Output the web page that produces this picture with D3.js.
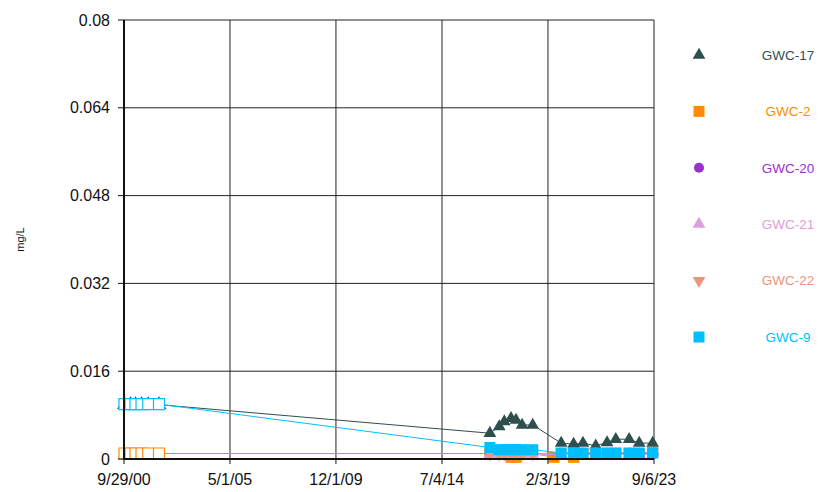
<!DOCTYPE html>
<html lang='en'>
<head>
<meta charset='utf-8'>
<title>GWC concentrations</title>
<script src='https://cdnjs.cloudflare.com/ajax/libs/d3/7.8.5/d3.min.js'></script>
<style>
body {
   margin:0;
   background:white;
}
svg text {
   font-family:'Liberation Sans', Arial, sans-serif;
}
</style>
</head>
<body>
<div id='chart'></div>
<script>
// sample dates shared by all wells
var sampleDates = ['2000-10-07','2001-01-10','2001-03-30','2001-07-03','2001-10-17','2002-04-05',
   '2016-07-30','2016-12-25','2017-03-15','2017-06-29','2017-09-16','2017-12-21','2018-06-07',
   '2019-05-10','2019-08-31','2020-03-14','2020-08-09','2021-02-27','2021-08-25','2022-01-10',
   '2022-08-09','2023-01-15','2023-08-16','2023-08-30'];
// first six samples are non-detects (hollow markers)
var hollowIdx = [0, 1, 2, 3, 4, 5];

var gwc17 = [0.0099,0.0099,0.0099,0.0099,0.0099,0.0099,
   0.0047,0.0059,0.0068,0.0074,0.0071,0.0062,0.0062,
   null,0.0029,0.0027,0.0029,0.0024,0.003,0.0036,0.0036,0.0029,0.0029,null];
var gwc2 = [0.001,0.001,0.001,0.001,0.001,0.001,
   0.001,0.001,0.001,0.0003,0.0003,0.001,0.001,
   0.0003,null,0.0003,0.001,0.001,0.001,0.001,0.001,0.001,0.0012,null];
var gwc20 = [null,null,null,null,null,null,
   0.0009,0.0009,0.0009,0.0009,0.0009,0.0009,0.0009,
   null,0.0009,0.0009,0.0009,0.0009,0.0009,0.0009,0.0009,0.0009,null,0.0009];
var gwc21 = [null,null,null,null,null,null,
   0.0008,0.0008,0.0008,0.0008,0.0008,0.0008,0.0008,
   null,0.0009,0.0009,0.0009,0.0009,0.0009,0.0009,0.0009,0.0009,0.0009,null];
var gwc22 = [null,null,null,null,null,null,
   0.0009,0.0009,0.0009,0.0009,0.0009,0.0009,0.0009,
   null,0.0012,0.0012,0.0012,0.0012,0.0012,0.0012,0.0012,0.0012,0.0012,null];
var gwc9 = [0.01,0.01,0.01,0.01,0.01,0.01,
   0.0021,0.0017,0.0017,0.0017,0.0017,0.0017,0.0017,
   null,0.0011,0.0011,0.0011,0.0011,0.0011,0.0011,0.0011,0.0011,0.0011,null];

var seriesNames = ['GWC-17','GWC-2','GWC-20','GWC-21','GWC-22','GWC-9'];
var seriesColors = ['#2F4F4F','#FF8C00','#9932CC','#DDA0DD','#E9967A','#00BFFF'];
var seriesShapes = ['triangle','square','circle','triangle','down','square'];
var seriesValues = [gwc17, gwc2, gwc20, gwc21, gwc22, gwc9];

var xTickLabels = ['9/29/00','5/1/05','12/1/09','7/4/14','2/3/19','9/6/23'];
var yTicks = [0, 0.016, 0.032, 0.048, 0.064, 0.08];

var W = 827, H = 492;
var plotL = 124, plotR = 654, plotT = 20, plotB = 459;

var parseIso = d3.timeParse('%Y-%m-%d');
var parseTick = d3.timeParse('%m/%d/%y');
var tickDates = xTickLabels.map(parseTick);

var x = d3.scaleTime()
          .domain([tickDates[0], tickDates[tickDates.length - 1]])
          .range([plotL, plotR]);
var y = d3.scaleLinear().domain([0, 0.08]).range([plotB, plotT]);

var svg = d3.select('#chart').append('svg')
            .attr('width', W).attr('height', H);

// grid
var grid = svg.append('g');
grid.selectAll('line.v').data(tickDates).enter().append('line')
    .attr('x1', function(d){return x(d);}).attr('x2', function(d){return x(d);})
    .attr('y1', plotT).attr('y2', plotB)
    .style('stroke', '#222').style('stroke-width', 1);
grid.selectAll('line.h').data(yTicks).enter().append('line')
    .attr('x1', plotL).attr('x2', plotR)
    .attr('y1', function(d){return y(d);}).attr('y2', function(d){return y(d);})
    .style('stroke', '#222').style('stroke-width', 1);

function symbolPath(shape, size) {
   if (shape === 'down') {
      return d3.symbol().type(d3.symbolTriangle).size(size)();
   }
   var t = {triangle: d3.symbolTriangle, square: d3.symbolSquare, circle: d3.symbolCircle}[shape];
   return d3.symbol().type(t).size(size)();
}
var shapeSize = {triangle: 70, down: 70, square: 121, circle: 80};

var line = d3.line()
             .x(function(d){return x(d.date);})
             .y(function(d){return y(d.value);});

seriesNames.forEach(function(name, s) {
   var pts = [];
   seriesValues[s].forEach(function(v, i) {
      if (v === null) return;
      pts.push({date: parseIso(sampleDates[i]), value: v, hollow: hollowIdx.indexOf(i) >= 0});
   });
   var g = svg.append('g');
   g.append('path').datum(pts)
    .attr('d', line)
    .style('fill', 'none').style('stroke', seriesColors[s]).style('stroke-width', 1);
   g.selectAll('path.mk').data(pts).enter().append('path')
    .attr('class', 'mk')
    .attr('d', symbolPath(seriesShapes[s], shapeSize[seriesShapes[s]]))
    .attr('transform', function(d){
       return 'translate(' + x(d.date) + ',' + y(d.value) + ')' + (seriesShapes[s] === 'down' ? ' rotate(180)' : '');
    })
    .style('fill', function(d){return d.hollow ? 'white' : seriesColors[s];})
    .style('stroke', function(d){return d.hollow ? seriesColors[s] : 'none';})
    .style('stroke-width', 1.2);
});

// axes
svg.append('line').attr('x1', plotL).attr('x2', plotL).attr('y1', plotT).attr('y2', plotB + 1)
   .style('stroke', '#111').style('stroke-width', 2);
svg.append('line').attr('x1', plotL - 1).attr('x2', plotR).attr('y1', plotB).attr('y2', plotB)
   .style('stroke', '#111').style('stroke-width', 2);
svg.selectAll('line.yt').data(yTicks).enter().append('line')
   .attr('x1', plotL - 6).attr('x2', plotL)
   .attr('y1', function(d){return y(d);}).attr('y2', function(d){return y(d);})
   .style('stroke', '#111').style('stroke-width', 1);
svg.selectAll('line.xt').data(tickDates).enter().append('line')
   .attr('x1', function(d){return x(d);}).attr('x2', function(d){return x(d);})
   .attr('y1', plotB).attr('y2', plotB + 5)
   .style('stroke', '#111').style('stroke-width', 1);
svg.selectAll('text.yl').data(yTicks).enter().append('text')
   .attr('x', plotL - 14).attr('y', function(d){return y(d);})
   .attr('dy', '0.35em').attr('text-anchor', 'end')
   .style('font-size', '16px').style('fill', '#111')
   .text(function(d){return String(d);});
svg.selectAll('text.xl').data(tickDates).enter().append('text')
   .attr('x', function(d){return x(d);}).attr('y', plotB + 26)
   .attr('text-anchor', 'middle')
   .style('font-size', '16px').style('fill', '#111')
   .text(function(d, i){return xTickLabels[i];});
svg.append('text')
   .attr('transform', 'translate(24,' + ((plotT + plotB) / 2) + ') rotate(-90)')
   .attr('text-anchor', 'middle')
   .style('font-size', '11px').style('fill', '#111')
   .text('mg/L');

// legend
var legend = svg.append('g');
seriesNames.forEach(function(name, s) {
   var ly = 55 + s * 56.4;
   legend.append('path')
      .attr('d', symbolPath(seriesShapes[s], shapeSize[seriesShapes[s]]))
      .attr('transform', 'translate(699,' + ly + ')' + (seriesShapes[s] === 'down' ? ' rotate(180)' : ''))
      .style('fill', seriesColors[s]);
   legend.append('text')
      .attr('x', 788).attr('y', ly).attr('dy', '0.35em')
      .attr('text-anchor', 'middle')
      .style('font-size', '13.5px').style('fill', seriesColors[s])
      .text(name);
});
</script>
</body>
</html>
